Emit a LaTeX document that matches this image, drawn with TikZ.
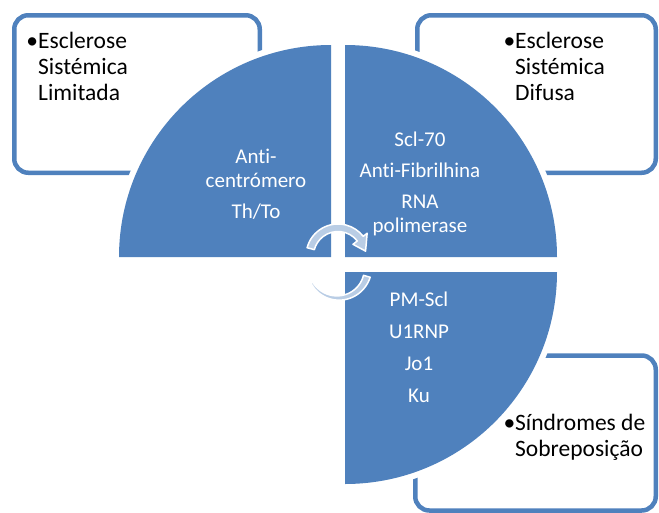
\documentclass[tikz,border=0pt]{standalone}
\usepackage{fontspec}
\setmainfont{Carlito}[Ligatures=NoCommon]
\definecolor{segblue}{RGB}{79,129,189}
\definecolor{arrowblue}{RGB}{185,205,229}

\tikzset{
  boxframe/.style={rectangle, draw=segblue, line width=4.5pt, rounded corners=14pt, fill=white},
  segment/.style={fill=segblue, preaction={draw=white, line width=12pt}},
  segtext/.style={text=white, align=center, font=\fontsize{21}{24.5}\selectfont},
  boxtext/.style={text=black, align=left, anchor=base west, font=\fontsize{23.5}{26}\selectfont},
  cyclearrow/.style={fill=arrowblue, draw=white, line width=1.5pt, line join=round}
}

\begin{document}
\begin{tikzpicture}[x=1pt, y=1pt, every node/.style={inner sep=0pt}]
\useasboundingbox (0,0) rectangle (659,-512);
% outer boxes
\node (limbox) [boxframe, minimum width=245.5pt, minimum height=157.5pt] at (137,-94) {};
\node (difbox) [boxframe, minimum width=238.5pt, minimum height=157.5pt] at (536.5,-94) {};
\node (sobbox) [boxframe, minimum width=240.5pt, minimum height=155pt] at (535.5,-433) {};
% quarter segments
\path[segment] (331,-257) -- ++(-212,0) arc[start angle=180, end angle=90, radius=212] -- cycle;
\path[segment] (345,-257) -- ++(0,212) arc[start angle=90, end angle=0, radius=212] -- cycle;
\path[segment] (345,-272) -- ++(212,0) arc[start angle=0, end angle=-90, radius=212] -- cycle;
% segment texts
\node (limseg) [segtext] at (256,-184) {Anti-\\centrómero\\[6.5pt]Th/To};
\node (difseg) [segtext] at (420,-184) {Scl-70\\[7pt]Anti-Fibrilhina\\[6pt]RNA\\polimerase};
\node (sobseg) [segtext] at (419,-347) {PM-Scl\\[7.5pt]U1RNP\\[7.5pt]Jo1\\[7.5pt]Ku};
% box texts (base = last line)
\node (limtext) [boxtext] at (38,-100) {\llap{•}Esclerose\\Sistémica\\Limitada};
\node (diftext) [boxtext] at (515,-100) {\llap{•}Esclerose\\Sistémica\\Difusa};
\node (sobtext) [boxtext] at (515,-456) {\llap{•}Síndromes de\\Sobreposição};
% circular arrows
\begin{scope}[shift={(338,-256)}]
\filldraw[cyclearrow] (165:32) arc[start angle=165, end angle=38, radius=32] -- (38:37) -- (10:28) -- (38:19) -- (38:24.5) arc[start angle=38, end angle=165, radius=24.5] -- cycle;
\end{scope}
\begin{scope}[shift={(338,-268)}]
\filldraw[cyclearrow] plot[domain=208:344, samples=40] (\x:{31+2.5*(\x-208)/136}) -- plot[domain=344:208, samples=40] (\x:{29-2.5*(\x-208)/136}) -- cycle;
\end{scope}
\end{tikzpicture}
\end{document}
